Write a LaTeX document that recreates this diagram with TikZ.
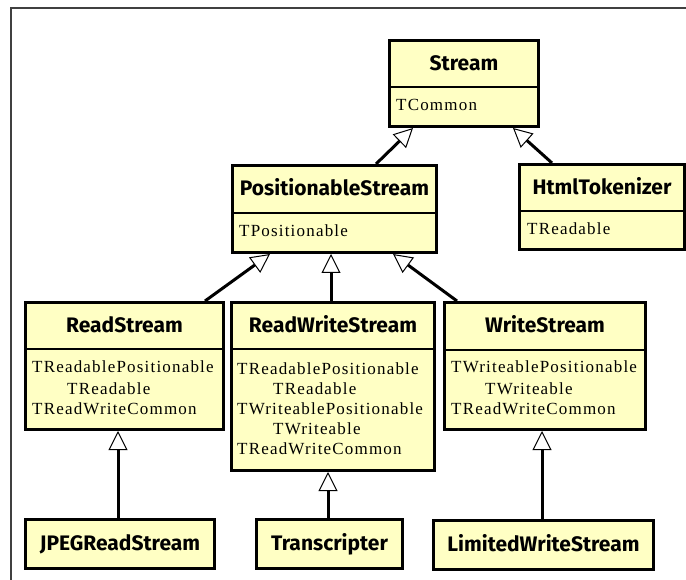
\documentclass[tikz,border=0pt]{standalone}
\usepackage{fontspec}
\setmainfont{Liberation Serif}
\newfontfamily\titlefont{Fira Sans}
\newfontfamily\bodyfont{Liberation Serif}[LetterSpace=7]
\usetikzlibrary{arrows.meta,calc}
\definecolor{boxfill}{HTML}{FFFFC4}
\tikzset{
  cls/.style={draw=black, line width=3pt, fill=boxfill, inner sep=0pt, anchor=north west},
  divider/.style={draw=black, line width=2.5pt},
  clstitle/.style={font=\titlefont\bfseries\fontsize{21}{24}\selectfont, inner sep=0pt, anchor=base},
  clsbody/.style={font=\bodyfont\fontsize{17}{20}\selectfont, inner sep=0pt, anchor=base west},
  inh/.style={draw=black, line width=3pt, -{Triangle[length=19pt,width=19pt,fill=white,line width=1pt]}},
  frame/.style={draw=black!75, line width=1.5pt}
}
\begin{document}
\begin{tikzpicture}[x=1pt,y=-1pt]
\fill[white] (0,0) rectangle (686,580);
\useasboundingbox (0,0) rectangle (686,580);
\draw[frame] (11,580) -- (11,8) -- (686,8);

% Stream
\node[cls, minimum width=149pt, minimum height=86pt] (stream) at (388,39) {};
\draw[divider] ($(stream.north west)+(0,48)$) -- ($(stream.north east)+(0,48)$);
\node[clstitle] (streamT) at ($(stream.north)+(0,31.5)$) {Stream};
\node[clsbody] (streamB) at ($(stream.north west)+(8,72)$) {TCommon};

% HtmlTokenizer
\node[cls, minimum width=165pt, minimum height=85pt] (html) at (518,163) {};
\draw[divider] ($(html.north west)+(0,48)$) -- ($(html.north east)+(0,48)$);
\node[clstitle] (htmlT) at ($(html.north)+(0,31.5)$) {HtmlTokenizer};
\node[clsbody] (htmlB) at ($(html.north west)+(9,72)$) {TReadable};

% PositionableStream
\node[cls, minimum width=204pt, minimum height=87pt] (ps) at (231,164) {};
\draw[divider] ($(ps.north west)+(0,49)$) -- ($(ps.north east)+(0,49)$);
\node[clstitle] (psT) at ($(ps.north)+(0,32)$) {PositionableStream};
\node[clsbody] (psB) at ($(ps.north west)+(8,73)$) {TPositionable};

% ReadStream
\node[cls, minimum width=198pt, minimum height=127pt] (rs) at (24,301) {};
\draw[divider] ($(rs.north west)+(0,48)$) -- ($(rs.north east)+(0,48)$);
\node[clstitle] (rsT) at ($(rs.north)+(0,31.5)$) {ReadStream};
\node[clsbody] (rsB1) at ($(rs.north west)+(8,72)$) {TReadablePositionable};
\node[clsbody] (rsB2) at ($(rs.north west)+(43,93)$) {TReadable};
\node[clsbody] (rsB3) at ($(rs.north west)+(8,113)$) {TReadWriteCommon};

% ReadWriteStream
\node[cls, minimum width=203pt, minimum height=168pt] (rws) at (230,301) {};
\draw[divider] ($(rws.north west)+(0,48)$) -- ($(rws.north east)+(0,48)$);
\node[clstitle] (rwsT) at ($(rws.north)+(0,31.5)$) {ReadWriteStream};
\node[clsbody] (rwsB1) at ($(rws.north west)+(7,73)$) {TReadablePositionable};
\node[clsbody] (rwsB2) at ($(rws.north west)+(43,93)$) {TReadable};
\node[clsbody] (rwsB3) at ($(rws.north west)+(7,113)$) {TWriteablePositionable};
\node[clsbody] (rwsB4) at ($(rws.north west)+(43,133)$) {TWriteable};
\node[clsbody] (rwsB5) at ($(rws.north west)+(7,153)$) {TReadWriteCommon};

% WriteStream
\node[cls, minimum width=201pt, minimum height=127pt] (ws) at (443,301) {};
\draw[divider] ($(ws.north west)+(0,49)$) -- ($(ws.north east)+(0,49)$);
\node[clstitle] (wsT) at ($(ws.north)+(0,31.5)$) {WriteStream};
\node[clsbody] (wsB1) at ($(ws.north west)+(8,72)$) {TWriteablePositionable};
\node[clsbody] (wsB2) at ($(ws.north west)+(42,93)$) {TWriteable};
\node[clsbody] (wsB3) at ($(ws.north west)+(8,113)$) {TReadWriteCommon};

% bottom row
\node[cls, minimum width=189pt, minimum height=49pt] (jpeg) at (24,518) {};
\node[clstitle] (jpegT) at ($(jpeg.north)+(0,32)$) {JPEGReadStream};
\node[cls, minimum width=146pt, minimum height=49pt] (trans) at (255,518) {};
\node[clstitle] (transT) at ($(trans.north)+(0,32)$) {Transcripter};
\node[cls, minimum width=220pt, minimum height=49pt] (lws) at (432,519) {};
\node[clstitle] (lwsT) at ($(lws.north)+(0,32)$) {LimitedWriteStream};

% inheritance connectors
\draw[inh] ($(ps.north west)+(145,0)$) -- ($(stream.south west)+(25,0)$);
\draw[inh] ($(html.north west)+(34,0)$) -- ($(stream.south west)+(125,0)$);
\draw[inh] ($(rs.north west)+(181,0)$) -- ($(ps.south west)+(39,0)$);
\draw[inh] ($(rws.north west)+(101,0)$) -- ($(ps.south west)+(100,0)$);
\draw[inh] ($(ws.north west)+(14,0)$) -- ($(ps.south west)+(162,0)$);
\draw[inh] ($(jpeg.north west)+(94,0)$) -- ($(rs.south west)+(94,0)$);
\draw[inh] ($(trans.north west)+(73,0)$) -- ($(rws.south west)+(98,0)$);
\draw[inh] ($(lws.north west)+(110,0)$) -- ($(ws.south west)+(99,0)$);
\end{tikzpicture}
\end{document}
